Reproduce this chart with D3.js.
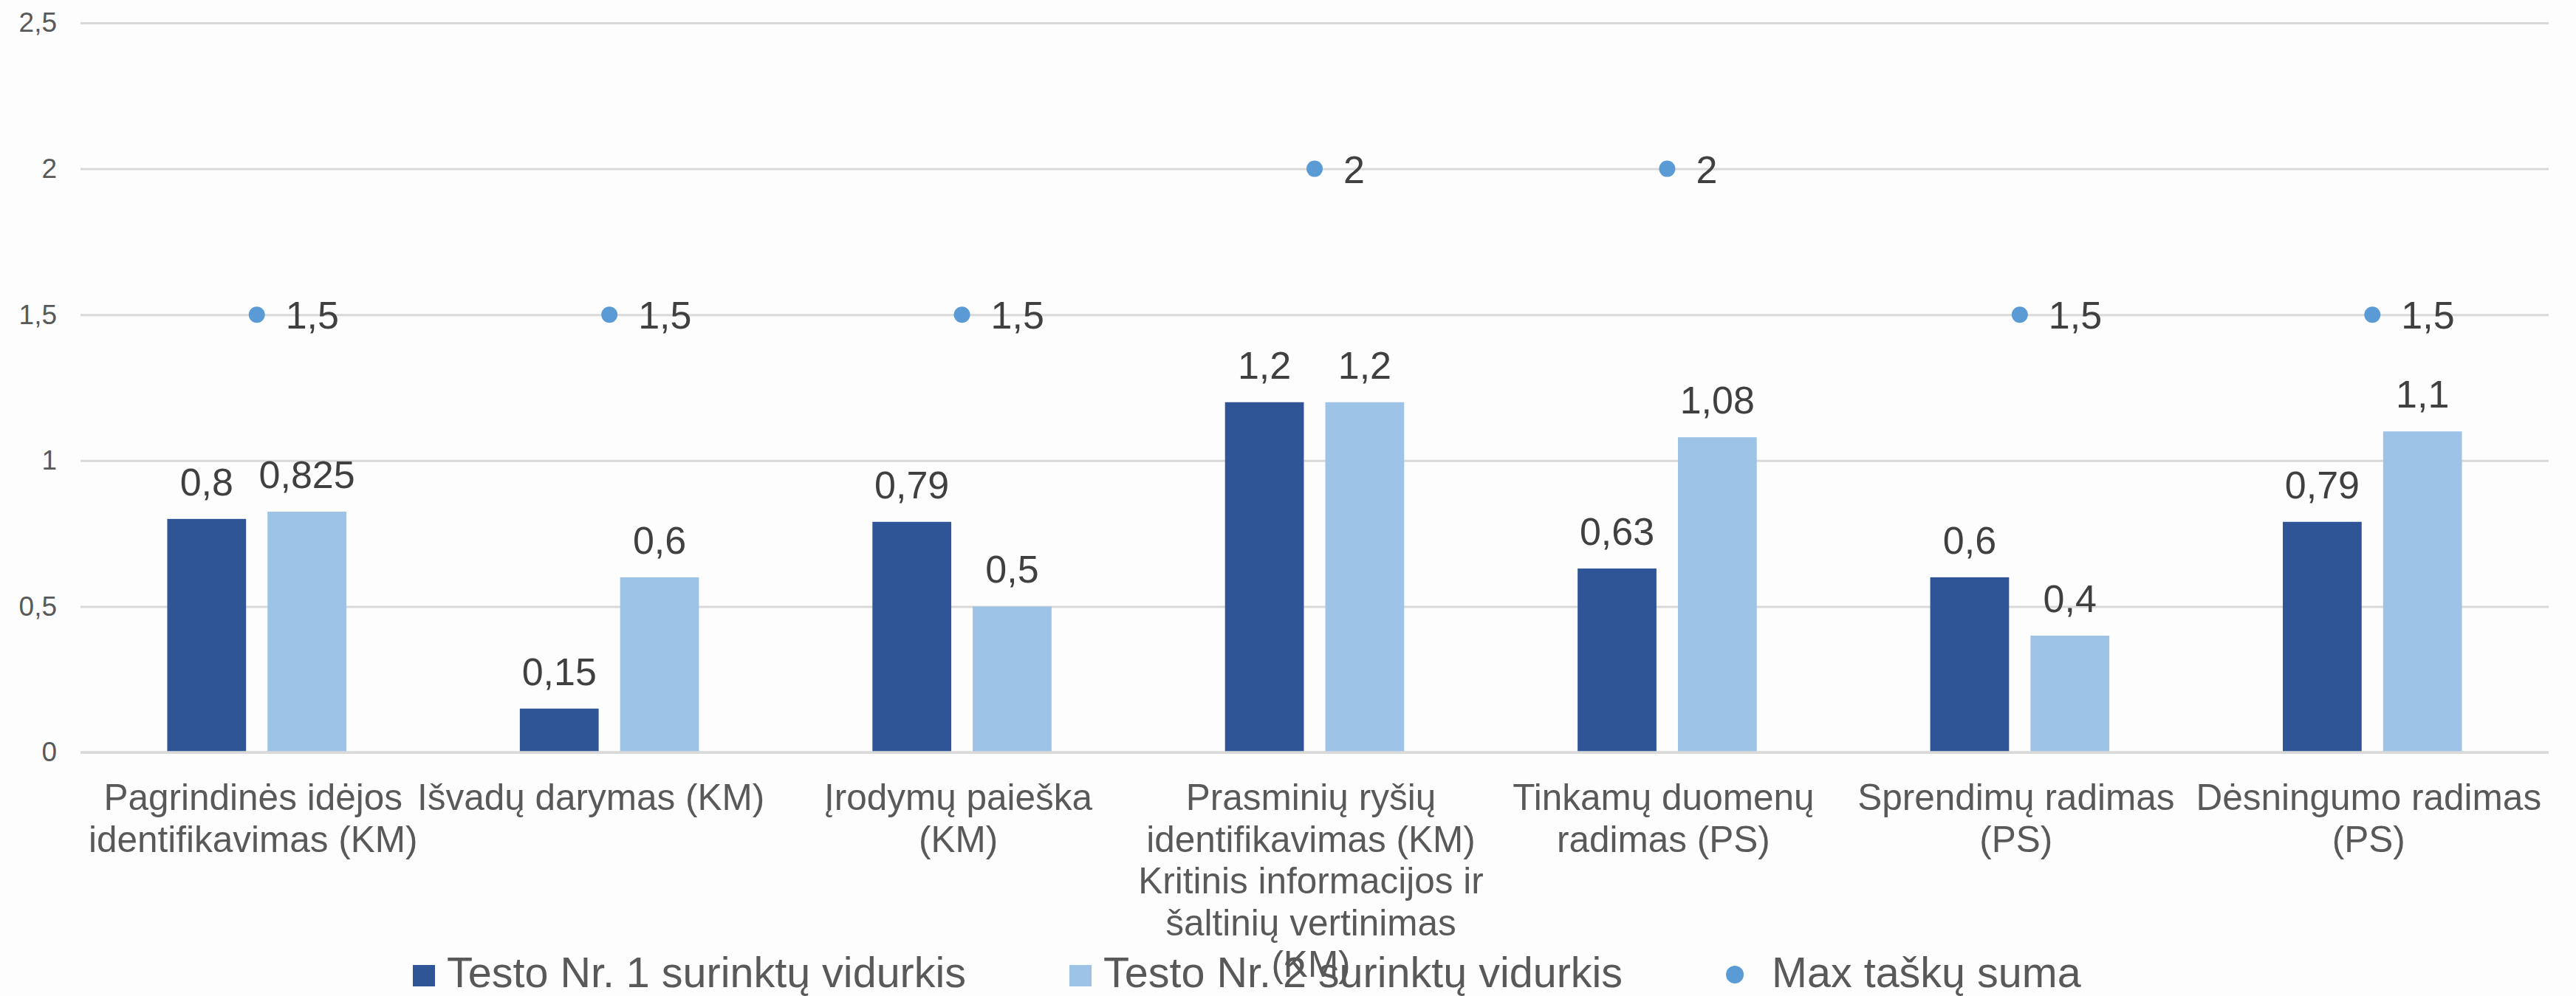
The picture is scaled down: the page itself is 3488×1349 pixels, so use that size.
<!DOCTYPE html>
<html>
<head>
<meta charset="utf-8">
<script src="https://cdn.jsdelivr.net/npm/d3@7"></script>
<style>
  body { margin: 0; background: #fdfdfd; }
  text { font-family: "Liberation Sans", Arial, sans-serif; }
</style>
</head>
<body>
<div id="chart"></div>
<script>
// category labels, already split into lines like the original
var categories = [
    ["Pagrindinės idėjos", "identifikavimas (KM)"],
    ["Išvadų darymas (KM)"],
    ["Įrodymų paieška", "(KM)"],
    ["Prasminių ryšių", "identifikavimas (KM)", "Kritinis informacijos ir", "šaltinių vertinimas", "(KM)"],
    ["Tinkamų duomenų", "radimas (PS)"],
    ["Sprendimų radimas", "(PS)"],
    ["Dėsningumo radimas", "(PS)"]
];
var test1 = [0.8, 0.15, 0.79, 1.2, 0.63, 0.6, 0.79];
var test2 = [0.825, 0.6, 0.5, 1.2, 1.08, 0.4, 1.1];
var maxPoints = [1.5, 1.5, 1.5, 2, 2, 1.5, 1.5];
var yTicks = [0, 0.5, 1, 1.5, 2, 2.5];
var seriesNames = ["Testo Nr. 1 surinktų vidurkis", "Testo Nr. 2  surinktų vidurkis", "Max taškų suma"];

var W = 3488, H = 1349;
var margin = { top: 31, right: 37, bottom: 330, left: 109 };
var width = W - margin.left - margin.right,
    height = H - margin.top - margin.bottom;

var colDark = "#2f5597", colLight = "#9dc3e6", colDot = "#5b9bd5";
var fmt = function (v) { return String(v).replace(".", ","); };
// the one-line label sits a bit left of its band centre in the original
var labelNudge = function (i) { return i === 1 ? -25 : -5; };

var svg = d3.select("#chart")
    .append("svg")
    .attr("width", W)
    .attr("height", H)
    .append("g")
    .attr("transform", "translate(" + margin.left + "," + margin.top + ")");

var idx = d3.range(categories.length);

var x0 = d3.scaleBand()
    .domain(idx)
    .range([0, width])
    .padding(0);

var bw = x0.bandwidth();
var x1 = d3.scaleBand()
    .domain([0, 1])
    .range([bw * 0.246, bw * 0.754])
    .paddingInner(0.214);

var y = d3.scaleLinear()
    .domain([0, 2.5])
    .range([height, 0]);

// gridlines + y labels
var yAxis = svg.append("g")
    .call(d3.axisLeft(y).tickValues(yTicks).tickSize(-width).tickFormat(fmt).tickPadding(32));
yAxis.select(".domain").remove();
yAxis.selectAll(".tick line").attr("stroke", "#d9d9d9").attr("stroke-width", 3);
yAxis.selectAll(".tick text")
    .attr("fill", "#595959")
    .style("font-size", "37px")
    .style("font-family", "Liberation Sans, Arial, sans-serif");

// bars
var series = [test1, test2];
var colors = [colDark, colLight];
series.forEach(function (vals, s) {
    svg.append("g").selectAll("rect")
        .data(vals)
        .enter()
        .append("rect")
        .attr("x", function (d, i) { return x0(i) + x1(s); })
        .attr("y", function (d) { return y(d); })
        .attr("width", x1.bandwidth())
        .attr("height", function (d) { return height - y(d); })
        .attr("fill", colors[s]);

    svg.append("g").selectAll("text")
        .data(vals)
        .enter()
        .append("text")
        .attr("x", function (d, i) { return x0(i) + x1(s) + x1.bandwidth() / 2; })
        .attr("y", function (d) { return y(d) - 32; })
        .attr("text-anchor", "middle")
        .attr("fill", "#404040")
        .style("font-size", "52px")
        .text(fmt);
});

// max points
var dots = svg.append("g");
dots.selectAll("circle")
    .data(maxPoints)
    .enter()
    .append("circle")
    .attr("cx", function (d, i) { return x0(i) + bw / 2; })
    .attr("cy", function (d) { return y(d); })
    .attr("r", 11)
    .attr("fill", colDot);
dots.selectAll("text")
    .data(maxPoints)
    .enter()
    .append("text")
    .attr("x", function (d, i) { return x0(i) + bw / 2 + 39; })
    .attr("y", function (d) { return y(d) + 19; })
    .attr("fill", "#404040")
    .style("font-size", "52px")
    .text(fmt);

// x axis line
svg.append("line")
    .attr("x1", 0).attr("x2", width)
    .attr("y1", height).attr("y2", height)
    .attr("stroke", "#d9d9d9")
    .attr("stroke-width", 3.5);

// category labels
var catG = svg.append("g").selectAll("text")
    .data(categories)
    .enter()
    .append("text")
    .attr("text-anchor", "middle")
    .attr("fill", "#595959")
    .style("font-size", "49.5px");
catG.selectAll("tspan")
    .data(function (d, i) { return d.map(function (t) { return { t: t, i: i }; }); })
    .enter()
    .append("tspan")
    .attr("x", function (d) { return x0(d.i) + bw / 2 + labelNudge(d.i); })
    .attr("y", function (d, j) { return height + 78 + j * 56.5; })
    .text(function (d) { return d.t; });

// legend
var legend = d3.select("svg").append("g")
    .attr("transform", "translate(559,1337)");
var lx = 0;
seriesNames.forEach(function (name, k) {
    if (k < 2) {
        legend.append("rect")
            .attr("x", lx).attr("y", -30)
            .attr("width", 30).attr("height", 29)
            .attr("fill", colors[k]);
        lx += 46;
    } else {
        legend.append("circle")
            .attr("cx", lx + 12).attr("cy", -17)
            .attr("r", 12)
            .attr("fill", colDot);
        lx += 62;
    }
    var t = legend.append("text")
        .attr("x", lx).attr("y", 0)
        .attr("fill", "#595959")
        .style("font-size", "57.5px")
        .text(name);
    lx += t.node().getComputedTextLength() + 140;
});
</script>
</body>
</html>
